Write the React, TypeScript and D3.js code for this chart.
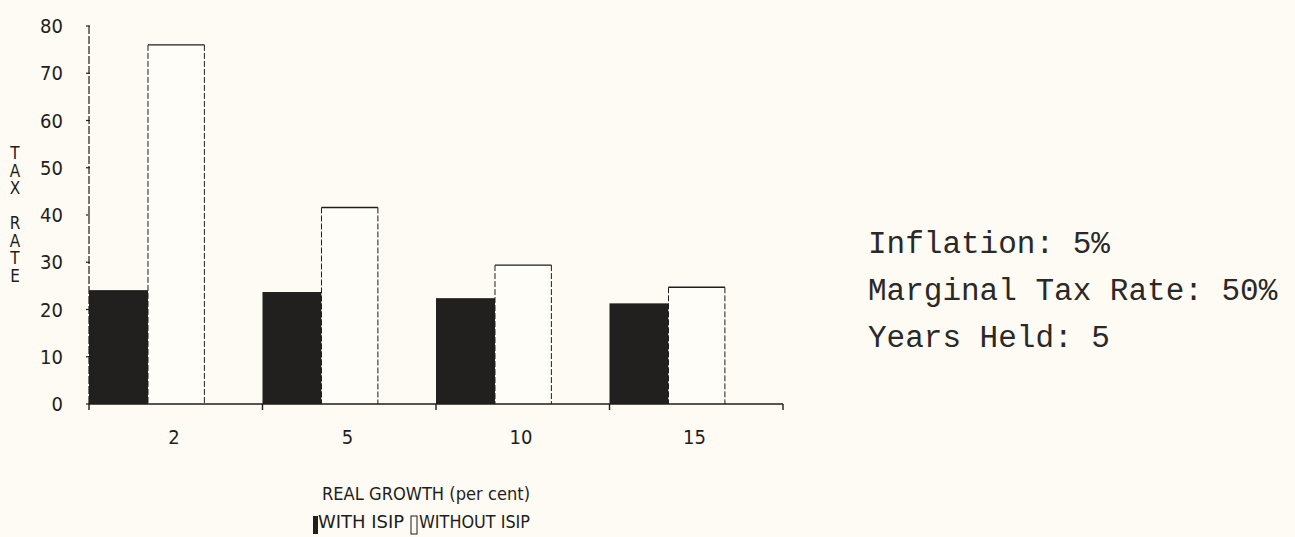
import React from "react";
import * as d3 from "d3";

// values (effective tax rate, %)
const growthCats = ["2", "5", "10", "15"];
const withIsip = [24.1, 23.7, 22.4, 21.3];
const withoutIsip = [76, 41.6, 29.4, 24.7];
const yTicks = [0, 10, 20, 30, 40, 50, 60, 70, 80];
const yLabelLetters = ["T", "A", "X", "", "R", "A", "T", "E"];
const notes = ["Inflation: 5%", "Marginal Tax Rate: 50%", "Years Held: 5"];

const W = 1295;
const H = 537;
const plotFont = "'Liberation Sans Narrow', 'DejaVu Sans Condensed', sans-serif";
const ink = "#1f1d1d";

const App = () => {
  const x = d3.scaleBand().domain(growthCats).range([89, 783]).padding(0);
  const y = d3.scaleLinear().domain([0, 80]).range([404, 26]);
  const bw = x.bandwidth();
  const darkW = bw * 0.34;
  const lightW = bw * 0.325;

  return (
    <svg
      width={W}
      height={H}
      style={{ position: "absolute", left: 0, top: 0, background: "#fdfbf3" }}
    >
      {/* bars */}
      {growthCats.map((c, i) => {
        const x0 = x(c);
        const lx = x0 + darkW;
        const top = y(withoutIsip[i]);
        return (
          <g key={c}>
            <rect
              x={x0}
              y={y(withIsip[i])}
              width={darkW}
              height={y(0) - y(withIsip[i])}
              fill="#221f1f"
            />
            <rect x={lx} y={top} width={lightW} height={y(0) - top} fill="#fefdf8" />
            <line x1={lx} x2={lx + lightW} y1={top} y2={top} stroke={ink} strokeWidth={1.4} />
            <line x1={lx} x2={lx} y1={top} y2={y(0)} stroke={ink} strokeWidth={1} strokeDasharray="6,2" />
            <line
              x1={lx + lightW}
              x2={lx + lightW}
              y1={top}
              y2={y(0)}
              stroke={ink}
              strokeWidth={1}
              strokeDasharray="6,2"
            />
          </g>
        );
      })}

      {/* y axis */}
      <line x1={89} x2={89} y1={y(80)} y2={y(0)} stroke={ink} strokeWidth={1.2} strokeDasharray="8,2" />
      {yTicks.map((t) => (
        <g key={t}>
          <line x1={86} x2={90} y1={y(t)} y2={y(t)} stroke={ink} strokeWidth={1.2} />
          <text
            x={63}
            y={y(t) + 7}
            textAnchor="end"
            fontFamily={plotFont}
            fontSize={20}
            fill={ink}
          >
            {t}
          </text>
        </g>
      ))}
      {yLabelLetters.map((l, i) => (
        <text
          key={i}
          x={15}
          y={153 + i * 17.5 + 6}
          textAnchor="middle"
          fontFamily={plotFont}
          fontSize={17}
          fill={ink}
        >
          {l}
        </text>
      ))}

      {/* x axis */}
      <line x1={89} x2={783} y1={y(0)} y2={y(0)} stroke={ink} strokeWidth={1.4} />
      {[...growthCats.map((c) => x(c)), 783].map((p, i) => (
        <line key={i} x1={p} x2={p} y1={y(0)} y2={y(0) + 6} stroke={ink} strokeWidth={1.4} />
      ))}
      {growthCats.map((c) => (
        <text
          key={c}
          x={x(c) + bw * 0.49}
          y={444}
          textAnchor="middle"
          fontFamily={plotFont}
          fontSize={20}
          fill={ink}
        >
          {c}
        </text>
      ))}

      {/* axis title and legend */}
      <text x={322} y={500} fontFamily={plotFont} fontSize={17} fill={ink} textLength={208} lengthAdjust="spacingAndGlyphs">
        REAL GROWTH (per cent)
      </text>
      <rect x={313} y={516} width={5} height={18} fill="#221f1f" />
      <text x={318} y={528} fontFamily={plotFont} fontSize={17} fill={ink} textLength={86} lengthAdjust="spacingAndGlyphs">
        WITH ISIP
      </text>
      <rect x={411} y={516} width={6} height={18} fill="none" stroke={ink} strokeWidth={1} />
      <text x={419} y={528} fontFamily={plotFont} fontSize={17} fill={ink} textLength={111} lengthAdjust="spacingAndGlyphs">
        WITHOUT ISIP
      </text>

      {/* parameters */}
      {notes.map((n, i) => (
        <text
          key={n}
          x={868}
          y={253 + i * 47}
          fontFamily="'Liberation Mono', 'DejaVu Sans Mono', monospace"
          fontSize={31}
          fill="#2a2828"
        >
          {n}
        </text>
      ))}
    </svg>
  );
};

export default App;
